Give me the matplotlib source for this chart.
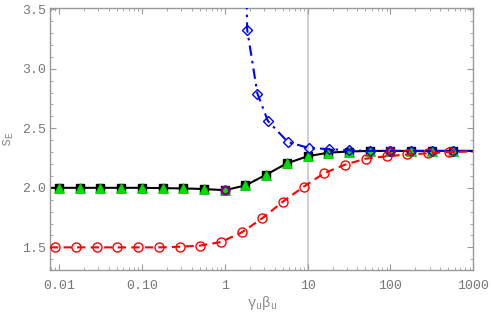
import numpy as np
import matplotlib
matplotlib.use("Agg")
import matplotlib.pyplot as plt
from matplotlib.ticker import FixedLocator, LogLocator, MultipleLocator, NullFormatter

# black squares / green triangles (same points)
bk_x = [0.01, 0.0178, 0.0316, 0.0562, 0.1, 0.178, 0.316, 0.562, 1.0, 1.78,
        3.16, 5.62, 10.0, 17.8, 31.6, 56.2, 100.0, 178.0, 316.0, 562.0]
bk_y = [2.0, 2.0, 2.0, 2.0, 2.0, 2.0, 1.995, 1.99, 1.98, 2.02,
        2.11, 2.205, 2.265, 2.295, 2.305, 2.31, 2.31, 2.31, 2.31, 2.31]
# black curve
bk_line_x = [0.0078, 0.01, 0.1, 0.316, 0.562, 1.0, 1.78, 3.16, 5.62, 10.0,
             17.8, 31.6, 56.2, 100.0, 1000.0]
bk_line_y = [2.0, 2.0, 2.0, 1.995, 1.99, 1.98, 2.02, 2.11, 2.205, 2.265,
             2.295, 2.305, 2.31, 2.31, 2.31]

# red circles
rd_x = [0.009, 0.016, 0.0285, 0.0506, 0.09, 0.16, 0.285, 0.506, 0.9, 1.6,
        2.85, 5.06, 9.0, 16.0, 28.5, 50.6, 90.0, 160.0, 285.0, 506.0]
rd_y = [1.5, 1.5, 1.5, 1.5, 1.5, 1.5, 1.505, 1.515, 1.545, 1.625,
        1.745, 1.885, 2.01, 2.125, 2.195, 2.245, 2.265, 2.28, 2.29, 2.30]
rd_line_x = [0.0078] + rd_x + [1000.0]
rd_line_y = [1.5] + rd_y + [2.305]

# blue diamonds
bl_x = [1.87, 2.48, 3.32, 5.78, 10.3, 18.0, 32.0, 56.0, 100.0, 178.0, 316.0, 562.0]
bl_y = [3.326, 2.792, 2.562, 2.385, 2.335, 2.325, 2.315, 2.31, 2.31, 2.31, 2.31, 2.31]
bl_line_x = [1.75] + bl_x + [1000.0]
bl_line_y = [4.3] + bl_y + [2.31]

# purple circles
pu_x = [1.0, 100.0]
pu_y = [1.98, 2.31]

xtick_vals = [0.01, 0.1, 1, 10, 100, 1000]
xtick_labels = ["0.01", "0.10", "1", "10", "100", "1000"]
ytick_vals = [1.5, 2.0, 2.5, 3.0, 3.5]
ytick_labels = ["1.5", "2.0", "2.5", "3.0", "3.5"]

plt.rcParams["font.family"] = ["Liberation Mono", "DejaVu Sans Mono"]

fig = plt.figure(figsize=(4.91, 3.15), dpi=100)
ax = fig.add_axes([50 / 491, 45 / 315, 423.3 / 491, 262 / 315])

ax.axvline(10, color="#c8c8c8", lw=1.2, zorder=1)

ax.plot(bk_line_x, bk_line_y, color="black", lw=1.5, zorder=2)
ax.plot(bk_x, bk_y, ls="none", marker="s", ms=5.5, mfc="black", mec="black", zorder=3)
ax.plot(bk_x, bk_y, ls="none", marker="^", ms=7, mfc="#00e000", mec="#00c000",
        mew=0.5, zorder=4)

ax.plot(bl_line_x, bl_line_y, color="blue", lw=1.5, ls=(0, (5, 2.5, 1.2, 2.5)), zorder=5)
ax.plot(bl_x, bl_y, ls="none", marker="D", ms=5, mfc="none", mec="blue", mew=1.0, zorder=6)

ax.plot(rd_line_x, rd_line_y, color="red", lw=1.5, ls=(0, (4, 2.5)), zorder=7)
ax.plot(rd_x, rd_y, ls="none", marker="o", ms=6.5, mfc="none", mec="red", mew=1.0, zorder=8)

ax.plot(pu_x, pu_y, ls="none", marker="o", ms=5.5, mfc="none", mec="#800080", mew=1.8, zorder=9)

ax.set_xscale("log")
ax.set_xlim(0.0078, 1000)
ax.set_ylim(1.31, 3.51)

ax.xaxis.set_major_locator(FixedLocator(xtick_vals))
ax.set_xticks(xtick_vals)
ax.set_xticklabels(xtick_labels)
ax.xaxis.set_minor_locator(LogLocator(base=10, subs=np.arange(2, 10)))
ax.xaxis.set_minor_formatter(NullFormatter())
ax.set_yticks(ytick_vals)
ax.set_yticklabels(ytick_labels)
ax.yaxis.set_minor_locator(MultipleLocator(0.1))

ax.tick_params(which="both", direction="in", top=True, right=True, colors="#999999",
               labelcolor="#777777", labelsize=9.5)
ax.tick_params(which="major", length=4, width=0.8)
ax.tick_params(which="minor", length=2, width=0.6)
ax.tick_params(axis="x", pad=7)
ax.tick_params(axis="y", pad=3)

for s in ax.spines.values():
    s.set_color("#999999")
    s.set_linewidth(1.0)

ax.set_xlabel(r"γ$_\mathregular{u}$β$_\mathregular{u}$", color="#888888", fontsize=10, labelpad=2)
ax.set_ylabel(r"s$_\mathregular{E}$", color="#888888", fontsize=10, labelpad=4)

fig.savefig("out.png", dpi=100)
